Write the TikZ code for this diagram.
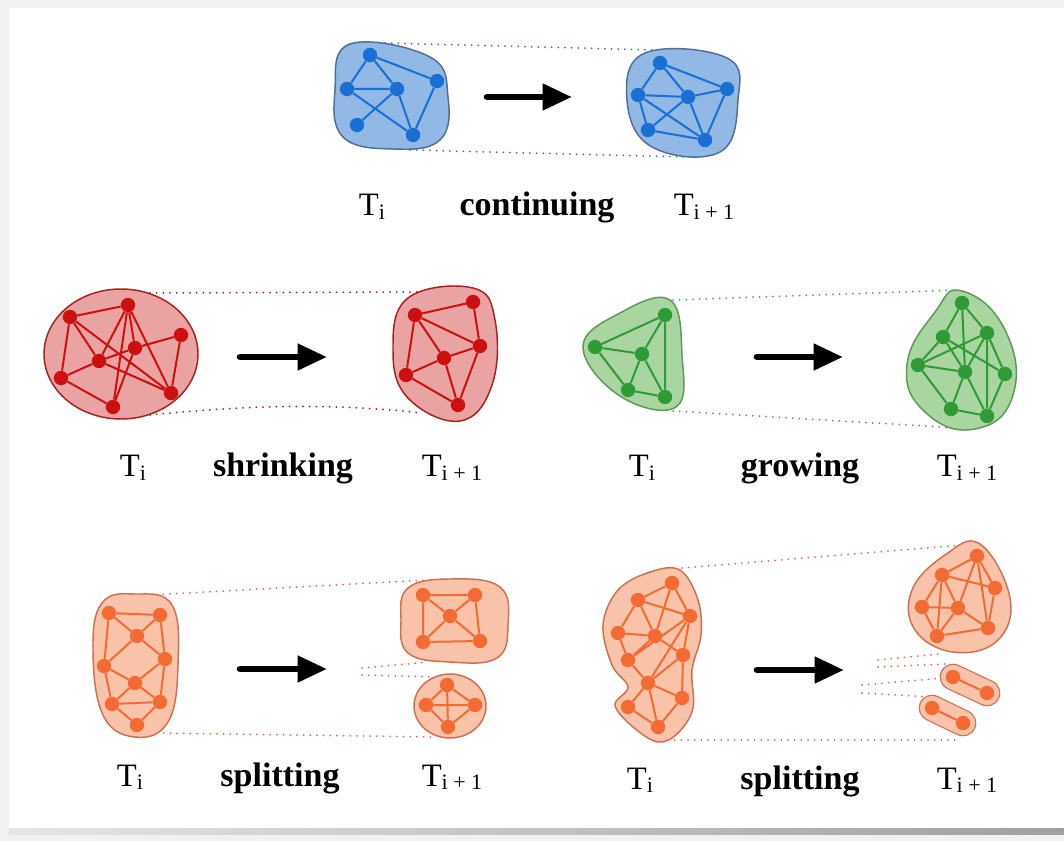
\documentclass[tikz,border=0pt]{standalone}
\usepackage{fontspec}
\setmainfont{Liberation Serif}
\usetikzlibrary{arrows.meta}
\definecolor{bgc}{HTML}{F1F1F1}
\definecolor{bfill}{HTML}{92B8E6}
\definecolor{bnodec}{HTML}{1A6FD4}
\definecolor{bline}{HTML}{4F6F94}
\definecolor{rfill}{HTML}{E9A3A3}
\definecolor{rnodec}{HTML}{CC1010}
\definecolor{rline}{HTML}{A82020}
\definecolor{gfill}{HTML}{A9D5A0}
\definecolor{gnodec}{HTML}{2E9B36}
\definecolor{gline}{HTML}{5A9A55}
\definecolor{ofill}{HTML}{F8C3A9}
\definecolor{onodec}{HTML}{F46A33}
\definecolor{oline}{HTML}{D07050}
\newcommand{\Tlab}[1]{{\fontsize{24.5}{28}\selectfont T\raisebox{-0.12em}{\fontsize{16.5}{20}\selectfont #1}}}
\tikzset{
  vtx/.style={circle, inner sep=0pt, minimum size=10.8pt},
  bv/.style={vtx, fill=bnodec}, rv/.style={vtx, fill=rnodec},
  gv/.style={vtx, fill=gnodec}, ov/.style={vtx, fill=onodec},
  be/.style={draw=bnodec, line width=1.5pt}, re/.style={draw=rnodec, line width=1.5pt},
  ge/.style={draw=gnodec, line width=1.5pt}, oe/.style={draw=onodec, line width=1.5pt},
  bhull/.style={fill=bfill, draw=bline, line width=1.1pt},
  rhull/.style={fill=rfill, draw=rline, line width=1.1pt},
  ghull/.style={fill=gfill, draw=gline, line width=1.1pt},
  ohull/.style={fill=ofill, draw=oline, line width=1.1pt},
  dotl/.style={line width=1.5pt, line cap=round, dash pattern=on 0pt off 5pt},
  bigarrow/.style={line width=5pt, line cap=round, -{Triangle[length=22pt,width=19pt]}},
  word/.style={anchor=base, font=\fontsize{25.5}{30}\selectfont\bfseries, inner sep=0pt},
  tlab/.style={anchor=base, inner sep=0pt},
}
\begin{document}
\begin{tikzpicture}[x=0.75pt,y=-0.75pt]
\useasboundingbox (0,0) rectangle (1064,841);
\fill[bgc] (0,0) rectangle (1064,841);
\fill[white] (9,8) rectangle (1064,828);
\shade[left color=gray!20, right color=gray!75] (9,828) rectangle (1064,834);

%%%%%%%%%%%%%%%% ROW 1: continuing (blue)
\coordinate (bt1) at (385,43); \coordinate (bt2) at (655,50);
\coordinate (bb1) at (410,150); \coordinate (bb2) at (690,157);
\draw[dotl, color=bline] (bt1) -- (bt2);
\draw[dotl, color=bline] (bb1) -- (bb2);
\filldraw[bhull] plot[smooth cycle, tension=0.7] coordinates {(350,44) (430,57) (448,97) (440,140) (393,149) (343,137) (335,90)};
\filldraw[bhull] plot[smooth cycle, tension=0.7] coordinates {(645,53) (727,58) (738,100) (720,152) (652,147) (627,100)};
\node[bv] (bl1) at (370,55) {}; \node[bv] (bl2) at (347,89) {};
\node[bv] (bl3) at (397,89) {}; \node[bv] (bl4) at (437,81) {};
\node[bv] (bl5) at (357,125) {}; \node[bv] (bl6) at (413,135) {};
\draw[be] (bl1)--(bl2) (bl1)--(bl3) (bl1)--(bl4) (bl2)--(bl3) (bl2)--(bl6) (bl3)--(bl5) (bl3)--(bl6) (bl4)--(bl6);
\node[bv] (br1) at (660,63) {}; \node[bv] (br2) at (638,95) {};
\node[bv] (br3) at (688,97) {}; \node[bv] (br4) at (727,89) {};
\node[bv] (br5) at (648,130) {}; \node[bv] (br6) at (705,140) {};
\draw[be] (br1)--(br2) (br1)--(br3) (br1)--(br4) (br2)--(br3) (br2)--(br5) (br2)--(br6) (br3)--(br5) (br3)--(br6) (br4)--(br6) (br3)--(br4) (br5)--(br6);
\coordinate (a1s) at (487,97); \coordinate (a1e) at (572,97);
\draw[bigarrow] (a1s) -- (a1e);
\node[tlab] (l1a) at (372,216) {\Tlab{i}};
\node[word] (l1b) at (537,216) {continuing};
\node[tlab] (l1c) at (704,216) {\Tlab{i + 1}};

%%%%%%%%%%%%%%%% ROW 2 left: shrinking (red)
\coordinate (rt1) at (150,293); \coordinate (rt2) at (423,292);
\coordinate (rb1) at (150,415); \coordinate (rb2) at (422,413);
\draw[dotl, color=rline] (rt1) -- (rt2);
\draw[dotl, color=rline] (rb1) .. controls (250,405) and (330,403) .. (rb2);
\filldraw[rhull] (121,354) ellipse [x radius=77, y radius=65];
\filldraw[rhull] plot[smooth cycle, tension=0.7] coordinates {(408,298) (473,288) (495,320) (492,385) (460,421) (408,398) (393,350)};
\node[rv] (rl1) at (70,317) {}; \node[rv] (rl2) at (128,305) {};
\node[rv] (rl3) at (181,335) {}; \node[rv] (rl4) at (135,348) {};
\node[rv] (rl5) at (99,361) {}; \node[rv] (rl6) at (61,378) {};
\node[rv] (rl7) at (113,407) {}; \node[rv] (rl8) at (171,393) {};
\draw[re] (rl1)--(rl2) (rl1)--(rl6) (rl1)--(rl5) (rl1)--(rl8) (rl2)--(rl5) (rl2)--(rl4) (rl2)--(rl8) (rl2)--(rl7)
  (rl3)--(rl4) (rl3)--(rl8) (rl4)--(rl5) (rl4)--(rl7) (rl5)--(rl6) (rl5)--(rl8) (rl6)--(rl7);
\node[rv] (rr1) at (415,315) {}; \node[rv] (rr2) at (473,302) {};
\node[rv] (rr3) at (480,346) {}; \node[rv] (rr4) at (444,358) {};
\node[rv] (rr5) at (406,375) {}; \node[rv] (rr6) at (458,405) {};
\draw[re] (rr1)--(rr2) (rr1)--(rr3) (rr1)--(rr4) (rr1)--(rr5) (rr2)--(rr3) (rr3)--(rr4) (rr3)--(rr6) (rr4)--(rr5) (rr4)--(rr6) (rr5)--(rr6);
\coordinate (a2s) at (240,357); \coordinate (a2e) at (327,357);
\draw[bigarrow] (a2s) -- (a2e);
\node[tlab] (l2a) at (133,477) {\Tlab{i}};
\node[word] (l2b) at (283,477) {shrinking};
\node[tlab] (l2c) at (452,477) {\Tlab{i + 1}};

%%%%%%%%%%%%%%%% ROW 2 right: growing (green)
\coordinate (gt1) at (673,300); \coordinate (gt2) at (958,290);
\coordinate (gb1) at (673,411); \coordinate (gb2) at (958,428);
\draw[dotl, color=gline] (gt1) -- (gt2);
\draw[dotl, color=gline] (gb1) -- (gb2);
\filldraw[ghull] plot[smooth cycle, tension=0.7] coordinates {(670,300) (682,355) (676,407) (620,396) (583,347) (620,313)};
\filldraw[ghull] plot[smooth cycle, tension=0.8] coordinates {(962,291) (1005,330) (1013,395) (975,429) (925,412) (907,365) (935,312)};
\node[gv] (gl1) at (665,315) {}; \node[gv] (gl2) at (595,347) {};
\node[gv] (gl3) at (642,354) {}; \node[gv] (gl4) at (628,390) {};
\node[gv] (gl5) at (665,397) {};
\draw[ge] (gl1)--(gl2) (gl1)--(gl3) (gl1)--(gl5) (gl2)--(gl3) (gl2)--(gl4) (gl3)--(gl4) (gl3)--(gl5) (gl4)--(gl5);
\node[gv] (gr1) at (962,303) {}; \node[gv] (gr2) at (943,337) {};
\node[gv] (gr3) at (987,333) {}; \node[gv] (gr4) at (918,365) {};
\node[gv] (gr5) at (965,372) {}; \node[gv] (gr6) at (1005,374) {};
\node[gv] (gr7) at (951,409) {}; \node[gv] (gr8) at (987,416) {};
\draw[ge] (gr1)--(gr2) (gr1)--(gr3) (gr1)--(gr5) (gr2)--(gr4) (gr2)--(gr6) (gr3)--(gr4) (gr3)--(gr5) (gr3)--(gr6) (gr3)--(gr8)
  (gr4)--(gr5) (gr4)--(gr7) (gr5)--(gr7) (gr5)--(gr8) (gr7)--(gr8) (gr6)--(gr8) (gr2)--(gr5);
\coordinate (a3s) at (757,357); \coordinate (a3e) at (843,357);
\draw[bigarrow] (a3s) -- (a3e);
\node[tlab] (l3a) at (642,477) {\Tlab{i}};
\node[word] (l3b) at (800,477) {growing};
\node[tlab] (l3c) at (967,477) {\Tlab{i + 1}};

%%%%%%%%%%%%%%%% ROW 3 left: splitting (orange)
\coordinate (ot1) at (150,595); \coordinate (ot2) at (427,580);
\coordinate (ob1) at (157,733); \coordinate (ob2) at (433,737);
\coordinate (om1) at (362,668); \coordinate (om2) at (428,662);
\coordinate (om3) at (362,675); \coordinate (om4) at (435,677);
\draw[dotl, color=oline] (ot1) -- (ot2);
\draw[dotl, color=oline] (ob1) -- (ob2);
\draw[dotl, color=oline] (om1) -- (om2);
\draw[dotl, color=oline] (om3) -- (om4);
\filldraw[ohull] plot[smooth cycle, tension=0.7] coordinates {(135,594) (172,605) (178,665) (168,722) (135,737) (103,715) (93,650) (102,603)};
\filldraw[ohull] plot[smooth cycle, tension=0.7] coordinates {(408,588) (450,579) (500,587) (508,625) (497,658) (450,662) (408,653) (401,620)};
\filldraw[ohull] (450,706) ellipse [x radius=36, y radius=32];
\node[ov] (o1) at (109,613) {}; \node[ov] (o2) at (160,615) {};
\node[ov] (o3) at (137,636) {}; \node[ov] (o4) at (104,666) {};
\node[ov] (o5) at (165,659) {}; \node[ov] (o6) at (135,683) {};
\node[ov] (o7) at (112,704) {}; \node[ov] (o8) at (160,702) {};
\node[ov] (o9) at (137,725) {};
\draw[oe] (o1)--(o2) (o1)--(o3) (o2)--(o3) (o1)--(o4) (o2)--(o5) (o3)--(o4) (o3)--(o5) (o4)--(o6) (o5)--(o6)
  (o4)--(o7) (o5)--(o8) (o6)--(o7) (o6)--(o8) (o7)--(o8) (o7)--(o9) (o8)--(o9);
\node[ov] (p1) at (423,595) {}; \node[ov] (p2) at (475,595) {};
\node[ov] (p3) at (450,616) {}; \node[ov] (p4) at (423,642) {};
\node[ov] (p5) at (480,641) {};
\draw[oe] (p1)--(p2) (p1)--(p3) (p2)--(p3) (p1)--(p4) (p2)--(p5) (p3)--(p4) (p3)--(p5) (p4)--(p5);
\node[ov] (q1) at (447,685) {}; \node[ov] (q2) at (426,705) {};
\node[ov] (q3) at (475,705) {}; \node[ov] (q4) at (448,727) {};
\draw[oe] (q1)--(q2) (q1)--(q3) (q2)--(q4) (q3)--(q4) (q1)--(q4) (q2)--(q3);
\coordinate (a4s) at (240,669); \coordinate (a4e) at (327,669);
\draw[bigarrow] (a4s) -- (a4e);
\node[tlab] (l4a) at (130,786) {\Tlab{i}};
\node[word] (l4b) at (280,786) {splitting};
\node[tlab] (l4c) at (452,786) {\Tlab{i + 1}};

%%%%%%%%%%%%%%%% ROW 3 right: splitting (orange)
\coordinate (vt1) at (682,568); \coordinate (vt2) at (963,545);
\coordinate (vb1) at (668,740); \coordinate (vb2) at (955,740);
\coordinate (vm1) at (878,660); \coordinate (vm2) at (940,654);
\coordinate (vm3) at (878,667); \coordinate (vm4) at (945,664);
\coordinate (vm5) at (862,685); \coordinate (vm6) at (943,678);
\coordinate (vm7) at (862,693); \coordinate (vm8) at (932,697);
\draw[dotl, color=oline] (vt1) -- (vt2);
\draw[dotl, color=oline] (vb1) -- (vb2);
\draw[dotl, color=oline] (vm1) -- (vm2);
\draw[dotl, color=oline] (vm3) -- (vm4);
\draw[dotl, color=oline] (vm5) -- (vm6);
\draw[dotl, color=oline] (vm7) -- (vm8);
\filldraw[ohull] plot[smooth cycle, tension=0.6] coordinates {(680,570) (698,600) (701,635) (692,670) (693,708) (678,733) (658,742) (633,727) (615,705) (628,687) (612,665) (603,625) (618,590) (650,572)};
\filldraw[ohull] plot[smooth cycle, tension=0.7] coordinates {(980,544) (1010,598) (997,641) (953,652) (915,630) (912,590) (945,555)};
\coordinate (k1) at (953,677); \coordinate (k2) at (987,693);
\coordinate (k3) at (932,708); \coordinate (k4) at (963,723);
\draw[oline, line width=20pt, line cap=round] (k1) -- (k2);
\draw[ofill, line width=18.2pt, line cap=round] (k1) -- (k2);
\draw[oline, line width=20pt, line cap=round] (k3) -- (k4);
\draw[ofill, line width=18.2pt, line cap=round] (k3) -- (k4);
\node[ov] (c1) at (953,677) {}; \node[ov] (c2) at (987,693) {};
\node[ov] (c3) at (932,708) {}; \node[ov] (c4) at (963,723) {};
\draw[oe] (c1)--(c2) (c3)--(c4);
\node[ov] (u1) at (672,583) {}; \node[ov] (u2) at (638,600) {};
\node[ov] (u3) at (690,616) {}; \node[ov] (u4) at (618,633) {};
\node[ov] (u5) at (655,636) {}; \node[ov] (u6) at (683,655) {};
\node[ov] (u7) at (628,660) {}; \node[ov] (u8) at (648,683) {};
\node[ov] (u9) at (628,707) {}; \node[ov] (u10) at (682,698) {};
\node[ov] (u11) at (658,727) {};
\draw[oe] (u1)--(u2) (u1)--(u3) (u1)--(u5) (u2)--(u4) (u2)--(u5) (u2)--(u3) (u3)--(u6) (u3)--(u7) (u4)--(u5) (u4)--(u7)
  (u5)--(u7) (u5)--(u6) (u6)--(u8) (u7)--(u8) (u8)--(u9) (u8)--(u10) (u8)--(u11) (u9)--(u11) (u10)--(u11) (u6)--(u10) (u3)--(u8);
\node[ov] (v1) at (977,556) {}; \node[ov] (v2) at (942,575) {};
\node[ov] (v3) at (995,588) {}; \node[ov] (v4) at (922,607) {};
\node[ov] (v5) at (958,608) {}; \node[ov] (v6) at (988,628) {};
\node[ov] (v7) at (937,636) {};
\draw[oe] (v1)--(v2) (v1)--(v3) (v1)--(v5) (v2)--(v4) (v2)--(v5) (v2)--(v3) (v3)--(v6) (v4)--(v5) (v4)--(v7)
  (v5)--(v6) (v5)--(v7) (v7)--(v6) (v2)--(v7) (v1)--(v6);
\coordinate (a5s) at (757,670); \coordinate (a5e) at (844,670);
\draw[bigarrow] (a5s) -- (a5e);
\node[tlab] (l5a) at (640,789) {\Tlab{i}};
\node[word] (l5b) at (800,789) {splitting};
\node[tlab] (l5c) at (967,789) {\Tlab{i + 1}};
\end{tikzpicture}
\end{document}
